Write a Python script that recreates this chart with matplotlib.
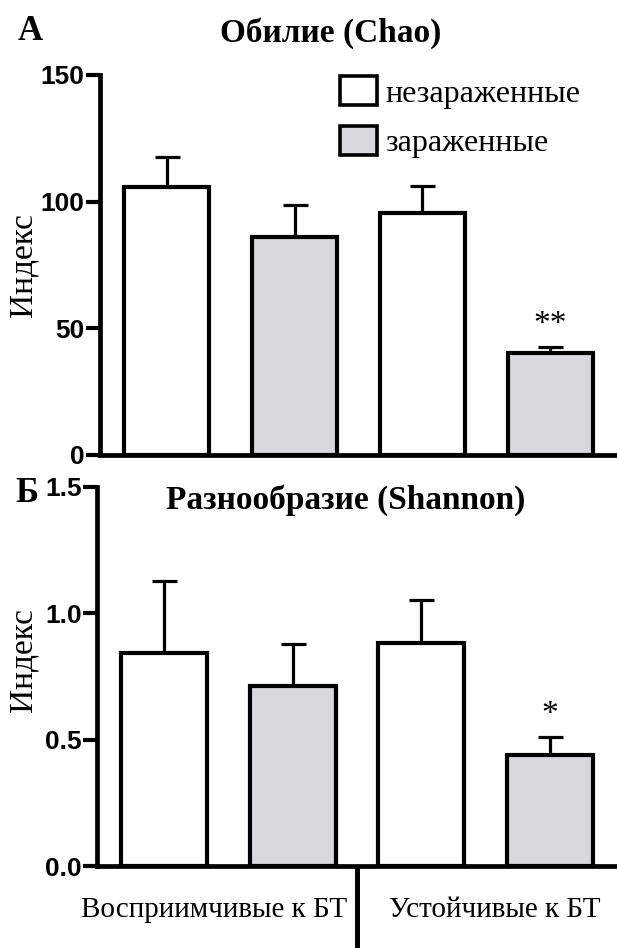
"""Chao richness and Shannon diversity, uninfected vs infected groups"""

import matplotlib
matplotlib.use('Agg')
import matplotlib.pyplot as plt
from matplotlib.patches import Patch

plt.rcParams['font.family'] = ['Liberation Serif', 'DejaVu Serif']

groups = ['Восприимчивые к БТ', 'Устойчивые к БТ']
legend_labels = ['незараженные', 'зараженные']

chao_mean = [105.6, 86.2, 95.7, 40.3]
chao_err = [12.2, 12.5, 10.4, 2.2]
chao_marks = ['', '', '', '**']
chao_ticks = [0, 50, 100, 150]

shannon_mean = [0.844, 0.713, 0.883, 0.440]
shannon_err = [0.284, 0.167, 0.171, 0.069]
shannon_marks = ['', '', '', '*']
shannon_ticks = [0.0, 0.5, 1.0, 1.5]
shannon_ticklabels = ['0.0', '0.5', '1.0', '1.5']

W, H = 617, 948
LW = 3.0
FILL = ['white', '#d7d7dd']
colors = [FILL[0], FILL[1], FILL[0], FILL[1]]
pos = [0, 1, 2, 3]

tick_font = dict(family='Liberation Sans', weight='bold', size=19)


def px(x, y):
    """pixel position (from top-left) to figure fraction"""
    return x / W, 1 - y / H


def _panel(ax, mean, err, marks, ticks, ticklabels, ylim, star_off):
    ax.bar(pos, mean, width=0.67, color=colors, edgecolor='black',
           linewidth=LW, zorder=3)
    ax.errorbar(pos, mean, yerr=[[0] * 4, err], fmt='none', ecolor='black',
                elinewidth=2.3, capsize=9, capthick=2.3, zorder=2)
    for x, m, e, s in zip(pos, mean, err, marks):
        if s:
            ax.text(x, m + e + star_off, s, ha='center', va='bottom',
                    fontsize=24)
    ax.set_xlim(-0.52, 3.52)
    ax.set_ylim(*ylim)
    for side in ('top', 'right'):
        ax.spines[side].set_visible(False)
    for side in ('left', 'bottom'):
        ax.spines[side].set_linewidth(3.4)
    ax.set_yticks(ticks)
    ax.set_yticklabels(ticklabels, fontdict=tick_font)
    ax.tick_params(axis='y', length=10, width=3, pad=1)


fig = plt.figure(figsize=(W / 100, H / 100), dpi=100)

ax1 = fig.add_axes([100 / W, 1 - 455 / H, 1 - 100 / W, (455 - 75) / H])
_panel(ax1, chao_mean, chao_err, chao_marks, chao_ticks,
       [str(t) for t in chao_ticks], (0, 150), 3)
ax1.set_xticks([])

handles = [Patch(facecolor=c, edgecolor='black', linewidth=2.6) for c in FILL]
ax1.legend(handles, legend_labels, loc='upper left',
           bbox_to_anchor=(0.44, 1.03), frameon=False, fontsize=23,
           handlelength=1.15, handleheight=1.0, handletextpad=0.25,
           labelspacing=0.55, borderaxespad=0)

ax2 = fig.add_axes([97 / W, 1 - 866 / H, 1 - 97 / W, (866 - 487) / H])
_panel(ax2, shannon_mean, shannon_err, shannon_marks, shannon_ticks,
       shannon_ticklabels, (0, 1.5), 0.03)

# divider tick between the two groups, group names underneath
ax2.set_xticks([1.5])
ax2.set_xticklabels([''])
ax2.tick_params(axis='x', length=60, width=3.6, direction='out')
ax2.text(0.39, -0.115, groups[0], transform=ax2.get_xaxis_transform(),
         ha='center', va='center', fontsize=21)
ax2.text(2.57, -0.115, groups[1], transform=ax2.get_xaxis_transform(),
         ha='center', va='center', fontsize=21)

# panel titles, letters and axis labels
fig.text(*px(331, 33), 'Обилие (Chao)', ha='center', va='center',
         fontsize=24, fontweight='bold')
fig.text(*px(346, 500), 'Разнообразие (Shannon)', ha='center', va='center',
         fontsize=24, fontweight='bold')
fig.text(*px(30, 32), 'А', ha='center', va='center', fontsize=25,
         fontweight='bold')
fig.text(*px(27, 494), 'Б', ha='center', va='center', fontsize=25,
         fontweight='bold')
fig.text(*px(23, 265), 'Индекс', ha='center', va='center', rotation=90,
         fontsize=24)
fig.text(*px(23, 660), 'Индекс', ha='center', va='center', rotation=90,
         fontsize=24)

fig.savefig('out.png', dpi=100)
